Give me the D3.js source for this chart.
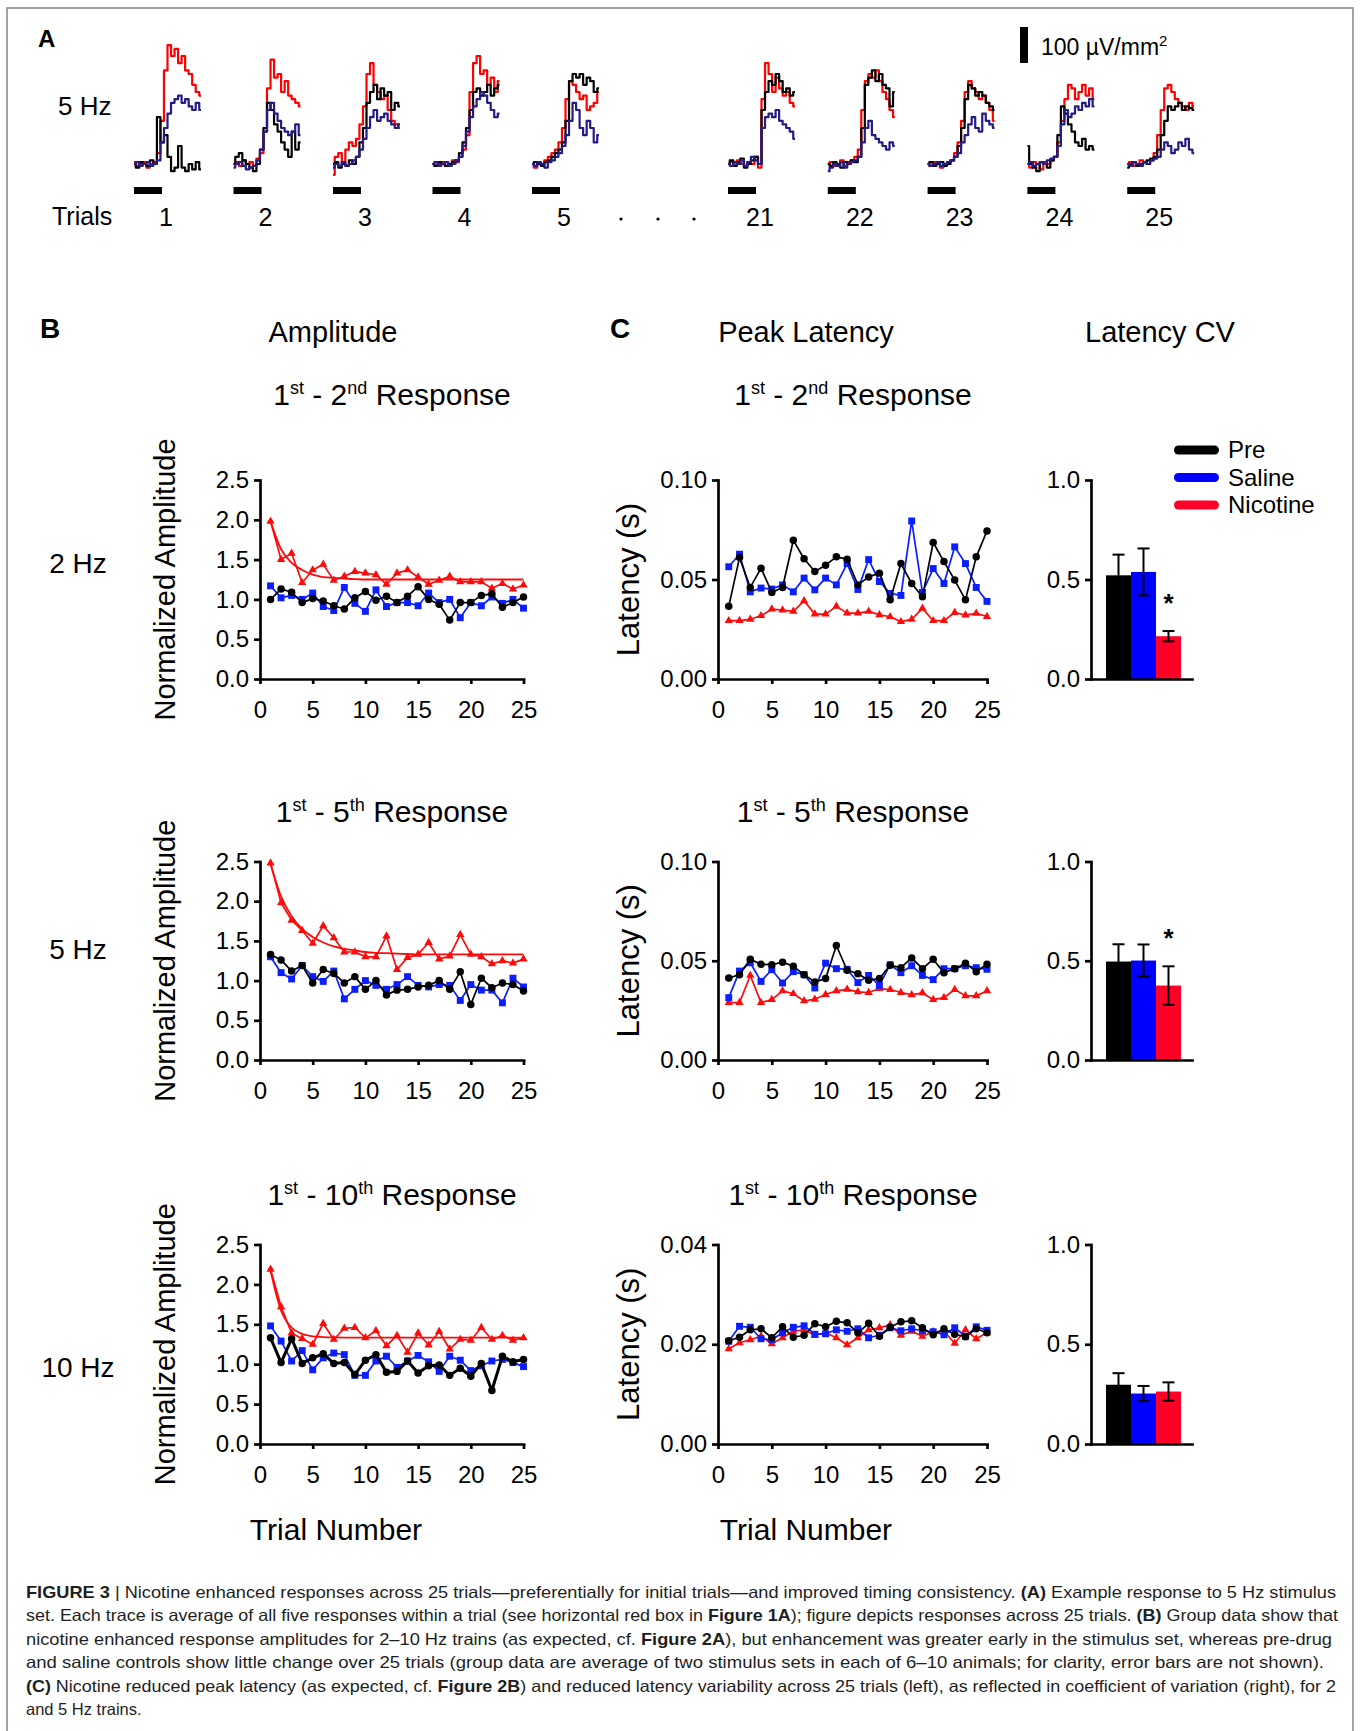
<!DOCTYPE html>
<html>
<head>
<meta charset="utf-8">
<script src="https://cdn.jsdelivr.net/npm/d3@7"></script>
<style>
  body { margin: 0; background: #fff; }
  svg { display: block; font-family: "Liberation Sans", Arial, sans-serif; }
</style>
</head>
<body>
<div id="fig"></div>
<script>
// ---- data ----
const groups = ["Pre", "Saline", "Nicotine"];
const trialNumbers = d3.range(1, 26);
const xTicks = [0, 5, 10, 15, 20, 25];

// panel A example traces (uV/mm2, 20 samples each)
const traceTrials = ["1", "2", "3", "4", "5", "21", "22", "23", "24", "25"];
const tracePre = [
  [0,-10,5,0,-5,10,0,130,60,80,20,-20,-10,50,-10,-20,0,-15,5,-15],
  [0,20,30,10,0,-10,-20,0,40,100,170,150,110,90,60,40,20,90,40,60],
  [0,5,-10,0,-5,10,0,20,60,100,170,200,220,180,210,190,200,150,170,160],
  [0,-5,5,0,-5,0,5,10,30,60,100,150,200,210,190,200,220,190,210,220],
  [0,5,0,-5,5,10,20,30,40,60,120,230,250,240,250,220,240,230,200,210],
  [0,10,-5,5,15,-10,0,10,20,0,150,200,230,220,250,230,200,210,190,200],
  [0,-5,5,0,-10,5,0,10,5,20,100,220,240,260,230,250,220,210,160,200],
  [0,5,-5,0,5,-5,0,10,20,50,100,180,220,210,190,200,190,170,160,150],
  [50,0,-10,-20,5,0,-10,10,20,80,160,140,110,90,60,50,70,40,50,40],
  [-10,0,5,-5,0,5,10,15,20,40,80,120,160,150,160,170,150,160,155,150]
];
const traceSaline = [
  [0,5,-5,0,5,-5,0,10,60,100,140,170,180,190,170,180,160,150,170,150],
  [-10,0,5,-5,-15,-10,-5,10,40,90,150,170,140,120,100,90,80,90,110,80],
  [-10,0,-5,5,-5,0,10,20,40,70,100,130,150,120,130,140,120,110,100,110],
  [0,5,-5,0,5,-5,0,10,20,50,90,130,160,180,200,190,170,150,130,140],
  [0,-5,5,0,-10,5,10,20,30,50,80,120,170,150,100,80,120,100,60,80],
  [0,-5,5,0,10,-5,5,20,10,0,100,130,140,130,150,120,110,100,90,70],
  [-20,-10,0,-5,5,-10,0,5,10,20,60,100,120,80,70,60,50,40,60,50],
  [0,-5,0,5,-5,0,5,10,20,30,60,80,110,130,100,90,140,120,110,100],
  [0,5,-5,0,5,0,10,15,20,50,110,150,130,140,160,150,170,160,180,160],
  [0,-5,5,0,-5,5,0,10,15,20,40,60,50,30,40,60,50,70,40,30]
];
const traceNicotine = [
  [5,-5,0,5,-10,0,5,30,120,260,330,300,320,280,300,260,250,220,200,190],
  [0,5,-5,10,0,5,-5,15,30,90,210,290,240,250,200,230,190,180,170,160],
  [-30,20,30,0,40,60,50,70,110,160,250,280,220,200,180,190,150,120,110,100],
  [0,-5,0,5,-5,0,10,5,20,40,80,200,280,300,250,260,220,240,200,230],
  [0,-10,5,0,10,20,30,40,60,100,180,230,220,200,180,190,150,160,170,200],
  [0,5,-5,10,0,-5,5,0,20,-10,180,280,250,200,240,210,190,200,170,160],
  [0,5,-5,0,10,-5,5,10,20,40,150,230,250,240,260,230,200,180,150,130],
  [0,-5,5,0,-10,0,5,10,30,60,120,200,230,210,200,180,190,170,150,120],
  [0,-10,5,0,-15,5,0,10,20,60,120,180,220,210,180,200,220,190,210,180],
  [0,5,-5,0,10,5,0,10,30,80,150,210,220,200,180,170,160,150,170,160]
];

// panel B normalized amplitude
const amp2Pre = [1.00,1.13,1.09,0.96,1.01,0.98,0.92,0.88,1.02,1.10,0.99,1.04,0.96,1.04,1.16,1.00,0.94,0.74,0.96,0.96,1.05,1.07,0.90,0.96,1.03];
const amp2Saline = [1.17,1.02,1.05,1.00,1.08,0.91,0.86,1.15,0.95,0.85,1.12,0.91,0.96,0.96,0.92,1.08,0.96,1.00,0.77,0.96,0.92,1.03,0.95,1.00,0.89];
const amp2Nicotine = [1.98,1.50,1.58,1.21,1.37,1.44,1.24,1.29,1.35,1.33,1.31,1.19,1.33,1.37,1.28,1.19,1.24,1.29,1.22,1.22,1.22,1.14,1.20,1.13,1.18];
const amp2Fit = [1.98,1.63,1.46,1.37,1.31,1.28,1.27,1.26,1.255,1.25,1.25,1.25,1.25,1.25,1.25,1.25,1.25,1.25,1.25,1.25,1.25,1.25,1.25,1.25,1.25];

const amp5Pre = [1.33,1.26,1.12,1.19,0.97,1.14,1.09,0.97,1.05,0.89,1.00,0.82,0.88,0.89,0.92,0.94,1.00,0.89,1.11,0.70,1.03,0.91,0.97,0.95,0.87];
const amp5Saline = [1.30,1.10,1.02,1.19,1.05,0.99,1.12,0.77,0.89,1.00,0.94,0.89,0.95,1.05,0.94,0.92,0.95,0.94,0.75,0.95,0.88,0.88,0.72,1.03,0.92];
const amp5Nicotine = [2.48,1.98,1.76,1.63,1.47,1.69,1.54,1.36,1.36,1.30,1.30,1.56,1.14,1.29,1.33,1.48,1.27,1.31,1.58,1.33,1.30,1.21,1.25,1.22,1.27];
const amp5Fit = [2.47,2.06,1.81,1.65,1.55,1.48,1.43,1.40,1.38,1.36,1.35,1.345,1.34,1.335,1.33,1.33,1.33,1.33,1.33,1.33,1.33,1.33,1.33,1.33,1.33];

const amp10Pre = [1.33,1.02,1.32,1.01,1.08,1.13,1.01,1.02,0.87,1.05,1.12,0.90,0.91,1.04,0.89,0.98,0.99,0.86,0.95,0.85,1.01,0.67,1.10,1.03,1.06];
const amp10Saline = [1.48,1.29,1.04,1.17,0.93,1.08,1.14,1.12,0.86,0.86,1.04,1.10,0.96,1.04,1.11,1.03,0.91,1.10,1.05,0.92,0.98,1.04,1.06,1.02,0.97];
const amp10Nicotine = [2.19,1.72,1.39,1.32,1.25,1.51,1.31,1.45,1.46,1.33,1.42,1.23,1.36,1.15,1.39,1.24,1.41,1.19,1.31,1.30,1.46,1.31,1.36,1.30,1.33];
const amp10Fit = [2.17,1.67,1.46,1.38,1.35,1.34,1.335,1.333,1.333,1.333,1.333,1.333,1.333,1.333,1.333,1.333,1.333,1.333,1.333,1.333,1.333,1.333,1.333,1.333,1.333];

// panel C peak latency (s)
const lat2Pre = [0.0365,0.061,0.046,0.0557,0.0435,0.046,0.0697,0.0604,0.054,0.0572,0.0614,0.0602,0.0473,0.0513,0.0532,0.0398,0.058,0.048,0.0413,0.0686,0.059,0.0497,0.0398,0.0614,0.0744];
const lat2Saline = [0.0564,0.0627,0.0438,0.0457,0.0452,0.0473,0.0438,0.0507,0.0448,0.0507,0.0473,0.058,0.045,0.060,0.049,0.043,0.042,0.0794,0.0435,0.0555,0.048,0.0664,0.058,0.046,0.039];
const lat2Nicotine = [0.0293,0.0293,0.030,0.0318,0.0351,0.0346,0.034,0.0393,0.0326,0.0326,0.0365,0.0331,0.0331,0.034,0.0323,0.0313,0.0288,0.030,0.0355,0.0293,0.0293,0.0334,0.0321,0.033,0.0314];

const lat5Pre = [0.0413,0.043,0.0507,0.0482,0.048,0.0493,0.0472,0.043,0.0393,0.041,0.0577,0.0452,0.0435,0.0402,0.041,0.0477,0.0465,0.0514,0.046,0.0507,0.044,0.046,0.0488,0.0445,0.0482];
const lat5Saline = [0.0314,0.0448,0.049,0.0396,0.0455,0.0388,0.0445,0.043,0.0363,0.0488,0.046,0.0457,0.039,0.0426,0.0376,0.048,0.044,0.0475,0.0426,0.0405,0.046,0.046,0.0475,0.0465,0.0457];
const lat5Nicotine = [0.0289,0.0289,0.0426,0.0289,0.0304,0.0348,0.0334,0.0298,0.0306,0.033,0.0348,0.0356,0.0343,0.034,0.036,0.0355,0.034,0.0328,0.0338,0.0304,0.0314,0.0355,0.0323,0.0323,0.0348];

const lat10Pre = [0.0207,0.0214,0.0229,0.0231,0.0213,0.0235,0.0214,0.0218,0.0241,0.0235,0.0246,0.0243,0.0223,0.0242,0.0216,0.0234,0.0245,0.0247,0.0233,0.0219,0.0231,0.022,0.0215,0.0231,0.0223];
const lat10Saline = [0.0206,0.0236,0.0234,0.0211,0.0209,0.0223,0.0234,0.0237,0.022,0.0221,0.0229,0.0226,0.0231,0.0213,0.0218,0.0233,0.0227,0.0231,0.0227,0.0225,0.0219,0.0233,0.0216,0.0235,0.0228];
const lat10Nicotine = [0.0191,0.0203,0.0209,0.0216,0.0201,0.0213,0.0226,0.0229,0.0218,0.0223,0.0213,0.0199,0.0213,0.0229,0.0233,0.0239,0.0218,0.0226,0.0216,0.0225,0.0226,0.0202,0.0229,0.0211,0.0223];

// latency CV (mean, sem) Pre / Saline / Nicotine
const cv2 = [0.521, 0.538, 0.215], cv2Err = [0.104, 0.118, 0.026];
const cv5 = [0.496, 0.501, 0.375], cv5Err = [0.087, 0.081, 0.097];
const cv10 = [0.297, 0.253, 0.263], cv10Err = [0.058, 0.038, 0.046];
const cvStar = [true, true, false];

const freqLabels = ["2 Hz", "5 Hz", "10 Hz"];
const nthLabels = [["2", "nd"], ["5", "th"], ["10", "th"]];

// ---- drawing ----
const W = 1360, H = 1731;
const color = { Pre: "#000000", Saline: "#0a1eff", Nicotine: "#ff0a0a" };
const barColor = { Pre: "#000000", Saline: "#0000ff", Nicotine: "#ff0027" };
const traceColor = { Pre: "#000000", Saline: "#241c85", Nicotine: "#ff0000" };

const svg = d3.select("#fig").append("svg").attr("width", W).attr("height", H);

svg.append("rect")
  .attr("x", 7).attr("y", 8).attr("width", 1346).attr("height", 1760)
  .attr("fill", "none").attr("stroke", "#8c8c8c").attr("stroke-width", 1.6);

function label(g, x, y, str, size, anchor, weight) {
  return g.append("text")
    .attr("x", x).attr("y", y)
    .attr("font-size", size)
    .attr("text-anchor", anchor || "start")
    .attr("font-weight", weight || "normal")
    .text(str);
}

// ---------- panel A ----------
const gA = svg.append("g");
label(gA, 38, 47, "A", 24, "start", "bold");
label(gA, 58, 115, "5 Hz", 26);
label(gA, 52, 225, "Trials", 25);

const ty = d3.scaleLinear().domain([0, 100]).range([164, 128]);
const tx = d3.scaleLinear().domain([0, 19]).range([0, 67]);
const traceLine = d3.line().x((d, j) => tx(j)).y(d => ty(d)).curve(d3.curveStep);

traceTrials.forEach((t, i) => {
  const x0 = i < 5 ? 134 + i * 99.5 : 728 + (i - 5) * 99.8;
  const g = gA.append("g").attr("transform", `translate(${x0},0)`);
  [["Nicotine", traceNicotine], ["Pre", tracePre], ["Saline", traceSaline]].forEach(([k, arr]) => {
    g.append("path").attr("d", traceLine(arr[i]))
      .attr("fill", "none").attr("stroke", traceColor[k])
      .attr("stroke-width", 2.2).attr("stroke-linejoin", "round");
  });
  g.append("rect").attr("x", 0).attr("y", 187).attr("width", 28).attr("height", 7).attr("fill", "#000");
  label(gA, x0 + 32, 226, t, 25, "middle");
});
[621, 658, 694].forEach(x => gA.append("circle").attr("cx", x).attr("cy", 219).attr("r", 1.6).attr("fill", "#000"));

// scale bar: 100 uV/mm2
gA.append("rect").attr("x", 1020).attr("y", 27).attr("width", 8)
  .attr("height", ty(0) - ty(100)).attr("fill", "#000");
const sb = gA.append("text").attr("x", 1041).attr("y", 55).attr("font-size", 23);
sb.append("tspan").text("100 \u00b5V/mm");
sb.append("tspan").attr("font-size", 15).attr("dy", -9).text("2");

// ---------- headers ----------
label(svg, 40, 338, "B", 28, "start", "bold");
label(svg, 610, 338, "C", 28, "start", "bold");
label(svg, 333, 342, "Amplitude", 29, "middle");
label(svg, 806, 342, "Peak Latency", 29, "middle");
label(svg, 1160, 342, "Latency CV", 29, "middle");

function responseTitle(cx, y, nth) {
  const t = svg.append("text").attr("x", cx).attr("y", y).attr("text-anchor", "middle").attr("font-size", 30);
  t.append("tspan").text("1");
  t.append("tspan").attr("font-size", 18).attr("dy", -11).text("st");
  t.append("tspan").attr("dy", 11).text(" - " + nth[0]);
  t.append("tspan").attr("font-size", 18).attr("dy", -11).text(nth[1]);
  t.append("tspan").attr("dy", 11).text(" Response");
}

function styleAxis(sel) {
  sel.attr("font-size", 24).attr("font-family", null);
  sel.select(".domain").attr("stroke-width", 2.7).attr("stroke-linecap", "square");
  sel.selectAll(".tick line").attr("stroke-width", 2.7);
  sel.selectAll(".tick text").attr("fill", "#000");
}

const symbolFor = {
  Pre: d3.symbol().type(d3.symbolCircle).size(44),
  Saline: d3.symbol().type(d3.symbolSquare).size(48),
  Nicotine: d3.symbol().type(d3.symbolTriangle).size(30)
};

function linePlot(xr, top, bottom, yMax, yTicks, fmt, series, fit, preWidth) {
  const x = d3.scaleLinear().domain([0, 25]).range(xr);
  const y = d3.scaleLinear().domain([0, yMax]).range([bottom, top]);
  const g = svg.append("g");
  g.append("g").attr("transform", `translate(0,${bottom})`)
    .call(d3.axisBottom(x).tickValues(xTicks).tickSize(5).tickSizeOuter(0).tickPadding(17))
    .call(styleAxis);
  g.append("g").attr("transform", `translate(${xr[0]},0)`)
    .call(d3.axisLeft(y).tickValues(yTicks).tickFormat(d3.format(fmt)).tickSize(6).tickSizeOuter(0).tickPadding(5))
    .call(styleAxis);

  const line = d3.line().x((d, i) => x(trialNumbers[i])).y(d => y(d));
  if (fit) {
    g.append("path").attr("d", line.curve(d3.curveMonotoneX)(fit))
      .attr("fill", "none").attr("stroke", color.Nicotine).attr("stroke-width", 1.8);
    line.curve(d3.curveLinear);
  }
  ["Nicotine", "Saline", "Pre"].forEach(k => {
    const vals = series[k];
    g.append("path").attr("d", line(vals))
      .attr("fill", "none").attr("stroke", color[k])
      .attr("stroke-width", k === "Pre" && preWidth ? preWidth : 1.7)
      .attr("stroke-linejoin", "round");
    g.selectAll(null).data(vals).join("path")
      .attr("d", symbolFor[k])
      .attr("transform", (d, i) => `translate(${x(trialNumbers[i])},${y(d)})`)
      .attr("fill", color[k]);
  });
}

function barPlot(top, bottom, means, errs, star) {
  const y = d3.scaleLinear().domain([0, 1]).range([bottom, top]);
  const xb = d3.scaleBand().domain(groups).range([1106, 1181]);
  const g = svg.append("g");
  g.selectAll(null).data(groups).join("rect")
    .attr("x", d => xb(d)).attr("width", xb.bandwidth())
    .attr("y", (d, i) => y(means[i])).attr("height", (d, i) => y(0) - y(means[i]))
    .attr("fill", d => barColor[d]);
  groups.forEach((d, i) => {
    const cx = xb(d) + xb.bandwidth() / 2;
    const lo = y(means[i] - errs[i]), hi = y(means[i] + errs[i]);
    g.append("line").attr("x1", cx).attr("x2", cx).attr("y1", lo).attr("y2", hi).attr("stroke", "#000").attr("stroke-width", 2);
    [lo, hi].forEach(v => g.append("line").attr("x1", cx - 6).attr("x2", cx + 6).attr("y1", v).attr("y2", v)
      .attr("stroke", "#000").attr("stroke-width", 2));
  });
  if (star) {
    const cx = xb("Nicotine") + xb.bandwidth() / 2;
    label(g, cx, y(means[2] + errs[2]) - 19, "*", 26, "middle", "bold");
  }
  g.append("g").attr("transform", `translate(0,${bottom})`)
    .call(d3.axisBottom(d3.scaleLinear().domain([0, 1]).range([1091, 1192])).tickValues([]).tickSizeOuter(0))
    .call(styleAxis);
  g.append("g").attr("transform", "translate(1091,0)")
    .call(d3.axisLeft(y).tickValues([0, 0.5, 1]).tickFormat(d3.format(".1f")).tickSize(6).tickSizeOuter(0).tickPadding(5))
    .call(styleAxis);
}

const rows = [
  { top: 480, bottom: 679, amp: { Pre: amp2Pre, Saline: amp2Saline, Nicotine: amp2Nicotine }, fit: amp2Fit,
    lat: { Pre: lat2Pre, Saline: lat2Saline, Nicotine: lat2Nicotine }, latMax: 0.10, latTicks: [0, 0.05, 0.10], cv: cv2, cvErr: cv2Err, title: 405, hz: 573 },
  { top: 861.5, bottom: 1060, amp: { Pre: amp5Pre, Saline: amp5Saline, Nicotine: amp5Nicotine }, fit: amp5Fit,
    lat: { Pre: lat5Pre, Saline: lat5Saline, Nicotine: lat5Nicotine }, latMax: 0.10, latTicks: [0, 0.05, 0.10], cv: cv5, cvErr: cv5Err, title: 822, hz: 959 },
  { top: 1244.5, bottom: 1444, amp: { Pre: amp10Pre, Saline: amp10Saline, Nicotine: amp10Nicotine }, fit: amp10Fit,
    lat: { Pre: lat10Pre, Saline: lat10Saline, Nicotine: lat10Nicotine }, latMax: 0.04, latTicks: [0, 0.02, 0.04], cv: cv10, cvErr: cv10Err, title: 1205, hz: 1377 }
];

rows.forEach((r, i) => {
  label(svg, 78, r.hz, freqLabels[i], 28, "middle");
  responseTitle(392, r.title, nthLabels[i]);
  responseTitle(853, r.title, nthLabels[i]);
  linePlot([260, 523.5], r.top, r.bottom, 2.5, [0, 0.5, 1, 1.5, 2, 2.5], ".1f", r.amp, r.fit, i === 2 ? 3 : null);
  linePlot([718, 987], r.top, r.bottom, r.latMax, r.latTicks, ".2f", r.lat, null, null);
  barPlot(r.top, r.bottom, r.cv, r.cvErr, cvStar[i]);
  const cy = (r.top + r.bottom) / 2;
  svg.append("text").attr("transform", `translate(175,${cy}) rotate(-90)`)
    .attr("text-anchor", "middle").attr("font-size", 29).text("Normalized Amplitude");
  svg.append("text").attr("transform", `translate(639,${cy}) rotate(-90)`)
    .attr("text-anchor", "middle").attr("font-size", 31).text("Latency (s)");
});

// legend
const lg = svg.append("g");
groups.forEach((k, i) => {
  lg.append("rect").attr("x", 1174).attr("y", 445.5 + i * 27.5).attr("width", 45).attr("height", 9)
    .attr("rx", 4.5).attr("fill", barColor[k]);
  label(lg, 1228, 458 + i * 27.5, k, 24);
});

label(svg, 336, 1540, "Trial Number", 30, "middle");
label(svg, 806, 1540, "Trial Number", 30, "middle");

// ---------- caption ----------
const captionLines = [
  [["FIGURE 3", 1], [" | Nicotine enhanced responses across 25 trials\u2014preferentially for initial trials\u2014and improved timing consistency. ", 0], ["(A)", 1], [" Example response to 5 Hz stimulus", 0]],
  [["set. Each trace is average of all five responses within a trial (see horizontal red box in ", 0], ["Figure 1A", 1], ["); figure depicts responses across 25 trials. ", 0], ["(B)", 1], [" Group data show that", 0]],
  [["nicotine enhanced response amplitudes for 2\u201310 Hz trains (as expected, cf. ", 0], ["Figure 2A", 1], ["), but enhancement was greater early in the stimulus set, whereas pre-drug", 0]],
  [["and saline controls show little change over 25 trials (group data are average of two stimulus sets in each of 6\u201310 animals; for clarity, error bars are not shown).", 0]],
  [["(C)", 1], [" Nicotine reduced peak latency (as expected, cf. ", 0], ["Figure 2B", 1], [") and reduced latency variability across 25 trials (left), as reflected in coefficient of variation (right), for 2", 0]],
  [["and 5 Hz trains.", 0]]
];
const captionWidths = [1310, 1312, 1306, 1298, 1310, null];
captionLines.forEach((parts, i) => {
  const t = svg.append("text").attr("x", 26).attr("y", 1598 + i * 23.4)
    .attr("font-size", 16.5).attr("fill", "#1e1e1e")
    .attr("xml:space", "preserve");
  if (captionWidths[i]) t.attr("textLength", captionWidths[i]).attr("lengthAdjust", "spacingAndGlyphs");
  parts.forEach(([s, b]) => t.append("tspan").attr("font-weight", b ? "bold" : "normal").text(s));
});
</script>
</body>
</html>
